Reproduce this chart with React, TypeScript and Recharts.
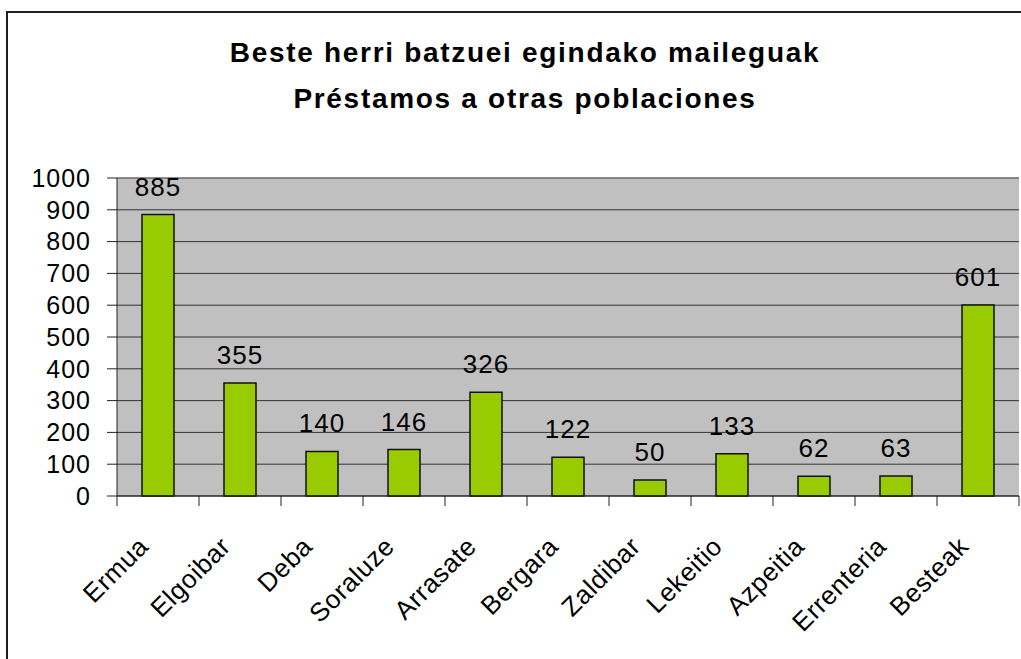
import { Bar, BarChart, CartesianGrid, LabelList, ReferenceLine, XAxis, YAxis } from 'recharts';

const towns = [
  'Ermua',
  'Elgoibar',
  'Deba',
  'Soraluze',
  'Arrasate',
  'Bergara',
  'Zaldibar',
  'Lekeitio',
  'Azpeitia',
  'Errenteria',
  'Besteak',
];
const loans = [885, 355, 140, 146, 326, 122, 50, 133, 62, 63, 601];
const yTicks = [0, 100, 200, 300, 400, 500, 600, 700, 800, 900, 1000];
const titleLines = ['Beste herri batzuei egindako maileguak', 'Préstamos a otras poblaciones'];

const data = towns.map((town, i) => ({ town, loans: loans[i] }));

const FONT = '"Liberation Sans", Arial, sans-serif';
const PLOT_LEFT = 117;
const PLOT_RIGHT = 1019;
const BAND = (PLOT_RIGHT - PLOT_LEFT) / towns.length;

// category labels rotated like the spreadsheet, with tick marks on band edges
function TownTick({ x, y, payload, index }: any) {
  const half = BAND / 2;
  return (
    <g>
      <line x1={x - half} y1={y} x2={x - half} y2={y + 10} stroke="#222" />
      {index === towns.length - 1 && (
        <line x1={x + half} y1={y} x2={x + half} y2={y + 10} stroke="#222" />
      )}
      <text
        x={x - 8}
        y={y + 52}
        transform={`rotate(-45, ${x - 8}, ${y + 52})`}
        textAnchor="end"
        fontSize={26}
        letterSpacing={0.6}
        fontFamily={FONT}
        fill="#000"
      >
        {payload.value}
      </text>
    </g>
  );
}

export default function App() {
  return (
    <div
      style={{
        position: 'absolute',
        left: 0,
        top: 0,
        width: 1021,
        height: 659,
        overflow: 'hidden',
        background: '#fff',
      }}
    >
      <div
        style={{
          position: 'absolute',
          left: 6,
          top: 11,
          width: 1200,
          height: 900,
          border: '2px solid #1e1e1e',
          boxSizing: 'border-box',
        }}
      />
      <svg width={1021} height={130} style={{ position: 'absolute', left: 0, top: 0 }}>
        {titleLines.map((line, i) => (
          <text
            key={line}
            x={525}
            y={62 + i * 46}
            textAnchor="middle"
            fontSize={28}
            letterSpacing={1.7}
            fontWeight="bold"
            fontFamily={FONT}
            fill="#000"
          >
            {line}
          </text>
        ))}
      </svg>
      <div style={{ position: 'absolute', left: 0, top: 0 }}>
        <BarChart
          width={1021}
          height={659}
          data={data}
          margin={{ top: 178, right: 2, bottom: 0, left: 0 }}
          barSize={32}
        >
          <CartesianGrid vertical={false} fill="#c0c0c0" fillOpacity={1} stroke="#333" />
          <XAxis
            dataKey="town"
            height={163}
            interval={0}
            tickLine={false}
            tickSize={0}
            tickMargin={0}
            axisLine={{ stroke: '#222' }}
            tick={<TownTick />}
          />
          <YAxis
            domain={[0, 1000]}
            ticks={yTicks}
            width={117}
            tickSize={10}
            tickMargin={16}
            interval={0}
            axisLine={{ stroke: '#222' }}
            tickLine={{ stroke: '#222' }}
            tick={{ fontSize: 25, fill: '#000', fontFamily: FONT, letterSpacing: 1 }}
          />
          <YAxis
            yAxisId="frame"
            orientation="right"
            width={0}
            tick={false}
            tickLine={false}
            axisLine={{ stroke: '#808080' }}
          />
          <ReferenceLine y={1000} stroke="#808080" />
          <Bar dataKey="loans" fill="#99cc00" stroke="#111" strokeWidth={1.5} isAnimationActive={false}>
            <LabelList
              dataKey="loans"
              position="top"
              offset={19}
              fontSize={26}
              letterSpacing={1}
              fill="#000"
              fontFamily={FONT}
            />
          </Bar>
        </BarChart>
      </div>
    </div>
  );
}
